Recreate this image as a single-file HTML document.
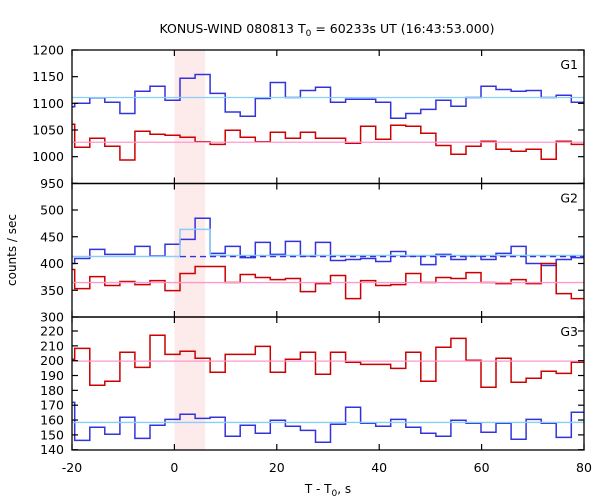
<!DOCTYPE html>
<html><head><meta charset="utf-8"><style>
body{margin:0;background:#fff}
svg{display:block;font-family:"DejaVu Sans","Liberation Sans",sans-serif}
</style></head><body>
<svg id="c" width="600" height="500" viewBox="0 0 600 500" xmlns="http://www.w3.org/2000/svg">
<text x="327" y="33" font-size="12.5" text-anchor="middle" fill="#000">KONUS-WIND 080813 T<tspan font-size="9" dy="3">0</tspan><tspan dy="-3"> = 60233s UT (16:43:53.000)</tspan></text>
<text transform="translate(16,250) rotate(-90)" font-size="12" text-anchor="middle">counts / sec</text>
<text x="328" y="493" font-size="12" text-anchor="middle">T - T<tspan font-size="9" dy="3">0</tspan><tspan dy="-3">, s</tspan></text>
</svg>
<script>
const xTicks = [-20, 0, 20, 40, 60, 80];
const binStart = -19.47;
const binWidth = 2.939;
const shadeRange = [0, 6];
const g1Ticks = [1200, 1150, 1100, 1050, 1000, 950];
const g2Ticks = [500, 450, 400, 350, 300];
const g3Ticks = [220, 210, 200, 190, 180, 170, 160, 150, 140];
const g1Blue = [1093.7,1100,1110.6,1102,1081,1122.5,1132,1105.6,1147,1154,1118.7,1083.7,1075.6,1109,1139,1111,1124,1130,1102,1107.5,1107.5,1102,1072,1081,1088.7,1105.6,1094.4,1111,1132,1126,1122.5,1124,1111,1115,1102];
const g1Red = [1060.6,1017.5,1034.4,1019.4,993.7,1047.5,1042,1040,1036.3,1028,1023,1049.4,1036.3,1028,1045.6,1034.4,1045.6,1034.4,1034.4,1025,1057,1032.5,1058.8,1057,1043.8,1021,1004.4,1019.4,1028.8,1013.8,1010,1013.8,995,1028.8,1023];
const g1BlueMean = 1111;
const g1RedMean = 1027;
const g2Blue = [400,409.4,426.3,417,417,432,414,436,445,484.4,418.8,432,411,439.4,417,441.3,414,439.4,405.6,407.5,409.4,403.8,422.5,414,398,417,407.5,414,407.5,418.8,432,400,396.3,407.5,411];
const g2Red = [388.8,353,375.6,358.8,366.3,360.6,368,349.4,381.3,394.4,394.4,364.4,379.4,373.8,370,372,347.5,362.5,377.5,334.4,368,358.8,360.6,381.3,364.4,373.8,372,383,364.4,362.5,370,362.5,400,343.8,334.4];
const g2BgSegT = [-20, 1.1, 7.0, 80];
const g2BgSegV = [413, 463.8, 415];
const g2DashStart = 1.1;
const g2DashValue = 413;
const g2RedMean = 364.4;
const g3Red = [200.9,208.3,183.4,186.1,205.7,195.5,217.1,204.2,206.3,201.6,192.2,204.2,204.2,209.6,192.2,200.9,205.7,190.8,205.7,198.9,197.5,197.5,194.8,205.7,186.1,209,215,200.3,182.1,201.6,185.4,188.1,192.9,191.4,198.9];
const g3Blue = [171.9,146.3,155.1,150.4,161.9,147.6,156.5,160.4,163.9,161.1,161.9,149.1,156.5,151.1,159.8,155.8,153,145,157.1,168.6,157.8,155.8,160.4,155.1,151.1,149.1,159.8,157.8,151.8,157.8,147.1,160.4,157.8,148.3,165.2];
const g3BlueMean = 158.4;
const g3RedMean = 199.7;

const NS = 'http://www.w3.org/2000/svg';
const svg = document.getElementById('c');
const X0 = 72, X1 = 584;
function xs(t){ return X0 + (t + 20) * (X1 - X0) / 100; }
function mk(tag, attrs){ const e = document.createElementNS(NS, tag); for (const k in attrs) e.setAttribute(k, attrs[k]); svg.appendChild(e); return e; }
const panels = [
  {name:'g1', label:'G1', top:50, bot:183.5, y:v=>50+(1200-v)*0.5333, ticks:g1Ticks},
  {name:'g2', label:'G2', top:183.5, bot:317, y:v=>210+(500-v)*0.535, ticks:g2Ticks},
  {name:'g3', label:'G3', top:317, bot:450, y:v=>331+(220-v)*1.484, ticks:g3Ticks}
];
function edges(n){ const e=[-20]; for(let i=0;i<n-1;i++) e.push(binStart+i*binWidth); e.push(80); return e; }
function stepPath(vals, ys){
  const e = edges(vals.length); let d = 'M'+xs(e[0]).toFixed(1)+','+ys(vals[0]).toFixed(1);
  for (let i=0;i<vals.length;i++){ d += ' H'+xs(e[i+1]).toFixed(1); if (i+1<vals.length) d += ' V'+ys(vals[i+1]).toFixed(1); }
  return d;
}
// shading
const sh = mk('rect',{x:xs(shadeRange[0]), y:50, width:xs(shadeRange[1])-xs(shadeRange[0]), height:400, fill:'#fdeaea'});


function line(p, v, color, name, t0, t1, dash){
  const l = mk('line',{x1:xs(t0===undefined?-20:t0), x2:xs(t1===undefined?80:t1), y1:p.y(v), y2:p.y(v), stroke:color, 'stroke-width':1.3});
  if (dash) l.setAttribute('stroke-dasharray', dash);
  
  
}
function series(p, vals, color, name){
  const s = mk('path',{d:stepPath(vals,p.y), fill:'none', stroke:color, 'stroke-width':1.5});
  
  
}
const P1=panels[0], P2=panels[1], P3=panels[2];
series(P1, g1Blue, '#3333dd', 'g1-blue-series');
series(P1, g1Red, '#cc0000', 'g1-red-series');
line(P1, g1BlueMean, '#87cefa', 'g1-blue-mean');
line(P1, g1RedMean, '#ff99cc', 'g1-red-mean');
series(P2, g2Blue, '#3333dd', 'g2-blue-series');
series(P2, g2Red, '#cc0000', 'g2-red-series');
{
  let d = '';
  for (let i=0;i<g2BgSegV.length;i++){
    d += (i===0?'M':' V')+ (i===0? xs(g2BgSegT[0]).toFixed(1)+','+P2.y(g2BgSegV[0]).toFixed(1) : P2.y(g2BgSegV[i]).toFixed(1));
    d += ' H'+xs(g2BgSegT[i+1]).toFixed(1);
  }
  const b = mk('path',{d:d, fill:'none', stroke:'#87cefa', 'stroke-width':1.5});
  
  
}
line(P2, g2DashValue, '#3333dd', 'g2-blue-dashed-fit', g2DashStart, 80, '6,4');
line(P2, g2RedMean, '#ff99cc', 'g2-red-mean');
series(P3, g3Red, '#cc0000', 'g3-red-series');
series(P3, g3Blue, '#3333dd', 'g3-blue-series');
line(P3, g3BlueMean, '#87cefa', 'g3-blue-mean');
line(P3, g3RedMean, '#ff99cc', 'g3-red-mean');
// axes
panels.forEach(p=>{
  const r = mk('rect',{x:X0, y:p.top, width:X1-X0, height:p.bot-p.top, fill:'none', stroke:'#000', 'stroke-width':1.3});
  
  
  p.ticks.forEach(v=>{
    const yy = p.y(v);
    mk('line',{x1:X0, x2:X0+6, y1:yy, y2:yy, stroke:'#000', 'stroke-width':1.2});
    mk('line',{x1:X1-6, x2:X1, y1:yy, y2:yy, stroke:'#000', 'stroke-width':1.2});
    const t = mk('text',{x:64, y:yy+4.5, 'font-size':12.5, 'text-anchor':'end', fill:'#000'});
    t.textContent = v;
    
    
  });
  xTicks.forEach(v=>{
    const xx = xs(v);
    mk('line',{x1:xx, x2:xx, y1:p.top, y2:p.top+6, stroke:'#000', 'stroke-width':1.2});
    mk('line',{x1:xx, x2:xx, y1:p.bot-6, y2:p.bot, stroke:'#000', 'stroke-width':1.2});
  });
  const lb = mk('text',{x:578, y:p.top+19, 'font-size':12.5, 'text-anchor':'end', fill:'#000'});
  lb.textContent = p.label;
  
  
});
xTicks.forEach(v=>{
  const t = mk('text',{x:xs(v), y:472, 'font-size':12.5, 'text-anchor':'middle', fill:'#000'});
  t.textContent = v;
  
  
});
</script>
</body></html>
